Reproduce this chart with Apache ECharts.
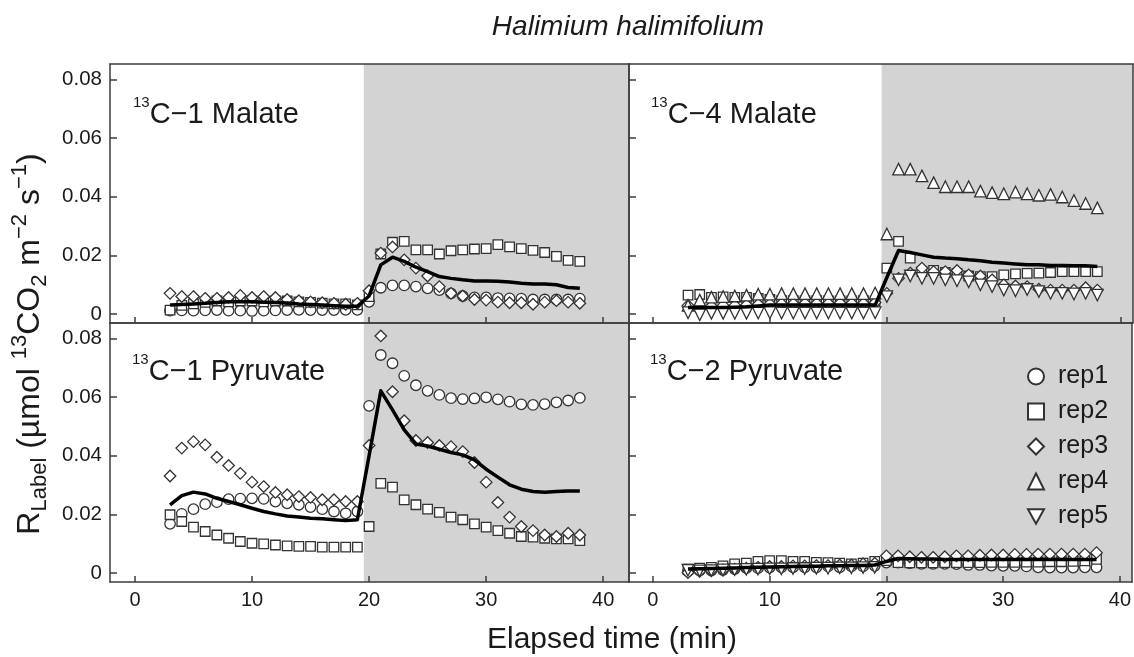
<!DOCTYPE html>
<html>
<head>
<meta charset="utf-8">
<script src="https://cdn.jsdelivr.net/npm/echarts@6/dist/echarts.min.js"></script>
<style>
  html, body { margin: 0; padding: 0; background: #ffffff; }
  #chart { width: 1134px; height: 657px; }
</style>
</head>
<body>
<div id="chart"></div>
<script>
// ---- data ---------------------------------------------------------------
const minutes = [3, 4, 5, 6, 7, 8, 9, 10, 11, 12, 13, 14, 15, 16, 17, 18, 19,
  20, 21, 22, 23, 24, 25, 26, 27, 28, 29, 30, 31, 32, 33, 34, 35, 36, 37, 38];
const xTicks = [0, 10, 20, 30, 40];
const yTicks = [0, 0.02, 0.04, 0.06, 0.08];
const labelOnset = [19.55];           // start of the labelled-substrate period (min)
const panelNames = ['C\u22121 Malate', 'C\u22124 Malate', 'C\u22121 Pyruvate', 'C\u22122 Pyruvate'];
const repNames = ['rep1', 'rep2', 'rep3', 'rep4', 'rep5'];

// 13C-1 malate
const c1MalRep1 = [0.0012, 0.0013, 0.0012, 0.0013, 0.0014, 0.0012, 0.0012, 0.0011, 0.0012, 0.0013, 0.0014, 0.0015, 0.0014, 0.0014, 0.0014, 0.0015, 0.0015,
  0.0042, 0.0090, 0.0098, 0.0098, 0.0094, 0.0088, 0.0082, 0.0071, 0.0062, 0.0057, 0.0057, 0.0055, 0.0054, 0.0053, 0.0050, 0.0050, 0.0050, 0.0050, 0.0053];
const c1MalRep2 = [0.0014, 0.0030, 0.0035, 0.0040, 0.0045, 0.0042, 0.0045, 0.0045, 0.0042, 0.0045, 0.0045, 0.0042, 0.0040, 0.0038, 0.0035, 0.0035, 0.0032,
  0.0060, 0.0205, 0.0245, 0.0248, 0.0219, 0.0219, 0.0205, 0.0216, 0.0219, 0.0222, 0.0223, 0.0237, 0.0229, 0.0223, 0.0217, 0.0210, 0.0197, 0.0183, 0.0180];
const c1MalRep3 = [0.0071, 0.0060, 0.0060, 0.0054, 0.0054, 0.0057, 0.0064, 0.0057, 0.0060, 0.0057, 0.0050, 0.0046, 0.0042, 0.0039, 0.0037, 0.0034, 0.0037,
  0.0080, 0.0208, 0.0229, 0.0185, 0.0157, 0.0130, 0.0094, 0.0071, 0.0062, 0.0050, 0.0048, 0.0041, 0.0039, 0.0039, 0.0034, 0.0041, 0.0046, 0.0041, 0.0037];
const c1MalMean = [0.0031, 0.0033, 0.0035, 0.0037, 0.0040, 0.0042, 0.0042, 0.0042, 0.0041, 0.0040, 0.0038, 0.0035, 0.0033, 0.0031, 0.0029, 0.0027, 0.0027,
  0.0062, 0.0168, 0.0194, 0.0180, 0.0160, 0.0145, 0.0128, 0.0122, 0.0117, 0.0113, 0.0113, 0.0112, 0.0110, 0.0105, 0.0103, 0.0103, 0.0100, 0.0091, 0.0088];

// 13C-4 malate
const c4MalRep2 = [0.0065, 0.0067, 0.0057, 0.0059, 0.0057, 0.0057, 0.0054, 0.0050, 0.0046, 0.0046, 0.0045, 0.0046, 0.0045, 0.0045, 0.0045, 0.0046, 0.0045,
  0.0157, 0.0248, 0.0191, 0.0145, 0.0149, 0.0142, 0.0139, 0.0130, 0.0128, 0.0128, 0.0134, 0.0137, 0.0139, 0.0140, 0.0142, 0.0145, 0.0145, 0.0145, 0.0145];
const c4MalRep3 = [0.0030, 0.0025, 0.0028, 0.0030, 0.0030, 0.0032, 0.0034, 0.0035, 0.0036, 0.0036, 0.0037, 0.0037, 0.0037, 0.0038, 0.0037, 0.0037, 0.0040,
  0.0071, 0.0122, 0.0140, 0.0157, 0.0145, 0.0145, 0.0149, 0.0134, 0.0130, 0.0117, 0.0100, 0.0096, 0.0094, 0.0085, 0.0082, 0.0082, 0.0082, 0.0090, 0.0082];
const c4MalRep4 = [0.0030, 0.0048, 0.0058, 0.0060, 0.0062, 0.0065, 0.0068, 0.0068, 0.0070, 0.0070, 0.0070, 0.0070, 0.0070, 0.0070, 0.0070, 0.0070, 0.0072,
  0.0273, 0.0494, 0.0494, 0.0471, 0.0448, 0.0434, 0.0434, 0.0434, 0.0419, 0.0414, 0.0410, 0.0416, 0.0410, 0.0405, 0.0408, 0.0399, 0.0387, 0.0377, 0.0362];
const c4MalRep5 = [0.0005, -0.0002, 0.0003, 0.0003, 0.0003, 0.0003, 0.0004, 0.0005, 0.0004, 0.0004, 0.0004, 0.0004, 0.0004, 0.0004, 0.0004, 0.0004, 0.0005,
  0.0060, 0.0117, 0.0130, 0.0122, 0.0122, 0.0117, 0.0114, 0.0110, 0.0100, 0.0094, 0.0082, 0.0080, 0.0084, 0.0077, 0.0071, 0.0071, 0.0069, 0.0071, 0.0065];
const c4MalMean = [0.0023, 0.0023, 0.0023, 0.0023, 0.0024, 0.0025, 0.0028, 0.0031, 0.0031, 0.0031, 0.0031, 0.0031, 0.0031, 0.0031, 0.0031, 0.0031, 0.0031,
  0.0125, 0.0217, 0.0210, 0.0202, 0.0194, 0.0191, 0.0189, 0.0185, 0.0182, 0.0177, 0.0174, 0.0171, 0.0168, 0.0168, 0.0166, 0.0166, 0.0165, 0.0165, 0.0162];

// 13C-1 pyruvate
const c1PyrRep1 = [0.0168, 0.0202, 0.0218, 0.0235, 0.0242, 0.0252, 0.0254, 0.0255, 0.0253, 0.0244, 0.0238, 0.0233, 0.0225, 0.0218, 0.0210, 0.0204, 0.0210,
  0.0570, 0.0743, 0.0715, 0.0672, 0.0640, 0.0621, 0.0607, 0.0596, 0.0593, 0.0595, 0.0599, 0.0592, 0.0584, 0.0575, 0.0573, 0.0576, 0.0582, 0.0588, 0.0597];
const c1PyrRep2 = [0.0199, 0.0176, 0.0157, 0.0142, 0.0130, 0.0119, 0.0108, 0.0102, 0.0100, 0.0096, 0.0093, 0.0091, 0.0091, 0.0089, 0.0089, 0.0089, 0.0089,
  0.0159, 0.0306, 0.0293, 0.0250, 0.0233, 0.0218, 0.0207, 0.0191, 0.0182, 0.0168, 0.0157, 0.0145, 0.0136, 0.0125, 0.0123, 0.0119, 0.0117, 0.0117, 0.0111];
const c1PyrRep3 = [0.0331, 0.0426, 0.0448, 0.0437, 0.0395, 0.0367, 0.0340, 0.0310, 0.0295, 0.0275, 0.0267, 0.0261, 0.0258, 0.0250, 0.0250, 0.0244, 0.0244,
  0.0435, 0.0808, 0.0618, 0.0519, 0.0452, 0.0445, 0.0435, 0.0431, 0.0414, 0.0377, 0.0310, 0.0241, 0.0191, 0.0159, 0.0145, 0.0130, 0.0125, 0.0136, 0.0130];
const c1PyrMean = [0.0233, 0.0264, 0.0276, 0.0270, 0.0255, 0.0244, 0.0233, 0.0221, 0.0210, 0.0202, 0.0195, 0.0191, 0.0187, 0.0185, 0.0182, 0.0179, 0.0182,
  0.0400, 0.0621, 0.0556, 0.0488, 0.0440, 0.0433, 0.0422, 0.0411, 0.0403, 0.0386, 0.0354, 0.0327, 0.0301, 0.0286, 0.0278, 0.0276, 0.0278, 0.0280, 0.0280];

// 13C-2 pyruvate
const c2PyrRep1 = [0.0006, 0.0009, 0.0009, 0.0011, 0.0014, 0.0017, 0.0017, 0.0019, 0.0020, 0.0020, 0.0020, 0.0020, 0.0023, 0.0020, 0.0023, 0.0023, 0.0025,
  0.0036, 0.0036, 0.0034, 0.0032, 0.0032, 0.0032, 0.0031, 0.0028, 0.0028, 0.0026, 0.0025, 0.0025, 0.0023, 0.0020, 0.0019, 0.0019, 0.0019, 0.0020, 0.0020];
const c2PyrRep2 = [0.0014, 0.0017, 0.0020, 0.0025, 0.0032, 0.0034, 0.0040, 0.0043, 0.0043, 0.0040, 0.0040, 0.0037, 0.0036, 0.0034, 0.0032, 0.0034, 0.0040,
  0.0043, 0.0036, 0.0035, 0.0035, 0.0035, 0.0036, 0.0036, 0.0036, 0.0036, 0.0037, 0.0037, 0.0037, 0.0038, 0.0038, 0.0039, 0.0039, 0.0040, 0.0042, 0.0047];
const c2PyrRep3 = [0.0002, 0.0006, 0.0009, 0.0011, 0.0014, 0.0017, 0.0020, 0.0023, 0.0023, 0.0025, 0.0025, 0.0026, 0.0026, 0.0028, 0.0028, 0.0032, 0.0034,
  0.0059, 0.0059, 0.0056, 0.0054, 0.0054, 0.0056, 0.0059, 0.0059, 0.0061, 0.0062, 0.0062, 0.0064, 0.0064, 0.0065, 0.0065, 0.0065, 0.0065, 0.0065, 0.0070];
const c2PyrRep5 = [0.0010, 0.0008, 0.0009, 0.0011, 0.0012, 0.0013, 0.0014, 0.0015, 0.0015, 0.0016, 0.0016, 0.0017, 0.0017, 0.0018, 0.0018, 0.0019, 0.0020,
  null, null, null, null, null, null, null, null, null, null, null, null, null, null, null, null, null, null, null];
const c2PyrMean = [0.0014, 0.0015, 0.0016, 0.0017, 0.0018, 0.0019, 0.0020, 0.0021, 0.0022, 0.0023, 0.0024, 0.0024, 0.0025, 0.0025, 0.0026, 0.0026, 0.0028,
  0.0040, 0.0050, 0.0049, 0.0048, 0.0048, 0.0047, 0.0047, 0.0047, 0.0047, 0.0047, 0.0047, 0.0047, 0.0047, 0.0047, 0.0047, 0.0047, 0.0047, 0.0047, 0.0047];

// ---- layout & style -----------------------------------------------------
const FONT = '"Liberation Sans", Arial, Helvetica, sans-serif';
const INK = '#1a1a1a';
const FRAME = '#3c3c3c';
const SHADE = '#d3d3d3';

const panels = [
  { box: { left: 110, top: 64, width: 519, height: 259 }, x: [-2.13, 42.2], xLabels: false, yLabels: true },
  { box: { left: 629, top: 64, width: 504, height: 259 }, x: [-2.05, 41.05], xLabels: false, yLabels: false },
  { box: { left: 110, top: 323, width: 519, height: 259 }, x: [-2.13, 42.2], xLabels: true, yLabels: true },
  { box: { left: 629, top: 323, width: 504, height: 259 }, x: [-2.05, 41.05], xLabels: true, yLabels: false }
];
const yRange = [-0.003, 0.0852];

const reps = [
  { symbol: 'circle', size: 10.5 },
  { symbol: 'rect', size: 9.5 },
  { symbol: 'diamond', size: 11.5 },
  { symbol: 'triangle', size: 11.5 },
  { symbol: 'path://M0,0L10,0L5,9Z', size: 11.5 }
];

// replicate series per panel: [rep index, values]
const panelSeries = [
  { reps: [[0, c1MalRep1], [1, c1MalRep2], [2, c1MalRep3]], mean: c1MalMean },
  { reps: [[1, c4MalRep2], [2, c4MalRep3], [3, c4MalRep4], [4, c4MalRep5]], mean: c4MalMean },
  { reps: [[0, c1PyrRep1], [1, c1PyrRep2], [2, c1PyrRep3]], mean: c1PyrMean },
  { reps: [[0, c2PyrRep1], [1, c2PyrRep2], [2, c2PyrRep3], [4, c2PyrRep5]], mean: c2PyrMean }
];

const grid = [], xAxis = [], yAxis = [], series = [];
const lineStyle = { color: FRAME, width: 1.5 };

panels.forEach((p, g) => {
  grid.push(Object.assign({ show: false }, p.box));
  // bottom x axis with inward ticks
  xAxis.push({
    type: 'value', gridIndex: g, min: p.x[0], max: p.x[1], position: 'bottom', z: 10,
    axisLine: { show: true, onZero: false, lineStyle },
    axisTick: { show: true, inside: true, length: 6, customValues: xTicks, lineStyle },
    axisLabel: { show: p.xLabels, customValues: xTicks, margin: 8, fontSize: 20, color: INK, fontFamily: FONT },
    splitLine: { show: false }
  });
  // top frame edge
  xAxis.push({
    type: 'value', gridIndex: g, min: p.x[0], max: p.x[1], position: 'top', z: 10,
    axisLine: { show: true, onZero: false, lineStyle },
    axisTick: { show: false }, axisLabel: { show: false }, splitLine: { show: false }
  });
  // left y axis with inward ticks
  yAxis.push({
    type: 'value', gridIndex: g, min: yRange[0], max: yRange[1], position: 'left', z: 10,
    axisLine: { show: true, onZero: false, lineStyle },
    axisTick: { show: true, inside: true, length: 7, customValues: yTicks, lineStyle },
    axisLabel: { show: p.yLabels, customValues: yTicks, margin: 8, fontSize: 20.5, color: INK, fontFamily: FONT },
    splitLine: { show: false }
  });
  // right frame edge
  yAxis.push({
    type: 'value', gridIndex: g, min: yRange[0], max: yRange[1], position: 'right', z: 10,
    axisLine: { show: true, onZero: false, lineStyle },
    axisTick: { show: false }, axisLabel: { show: false }, splitLine: { show: false }
  });

  const ps = panelSeries[g];
  ps.reps.forEach(([r, vals]) => {
    series.push({
      type: 'scatter', name: repNames[r], xAxisIndex: 2 * g, yAxisIndex: 2 * g,
      symbol: reps[r].symbol, symbolSize: reps[r].size, z: 3, silent: true,
      itemStyle: { color: '#ffffff', borderColor: '#333333', borderWidth: 1.3, opacity: 1 },
      data: minutes.map((m, i) => [m, vals[i]]).filter(d => d[1] !== null)
    });
  });
  series.push({
    type: 'line', name: 'mean', xAxisIndex: 2 * g, yAxisIndex: 2 * g,
    symbol: 'none', z: 4, silent: true,
    lineStyle: { color: '#000000', width: 3.5, join: 'round' },
    data: minutes.map((m, i) => [m, ps.mean[i]]),
    markArea: {
      silent: true, z: 1,
      itemStyle: { color: SHADE },
      data: [[{ xAxis: labelOnset[0] }, { xAxis: p.x[1] }]]
    }
  });
});

// panel captions with superscript mass number
const captionPos = [[133, 95], [651, 95], [132, 352], [650, 352]];
const graphics = panelNames.map((t, i) => ({
  type: 'text', x: captionPos[i][0], y: captionPos[i][1], z: 20, silent: true,
  style: {
    text: '{sup|13}{main|' + t + '}',
    textAlign: 'left', textVerticalAlign: 'top',
    rich: {
      sup: { fontSize: 15, lineHeight: 8, verticalAlign: 'top', fontFamily: FONT, fill: INK },
      main: { fontSize: 29, lineHeight: 40, verticalAlign: 'middle', fontFamily: FONT, fill: INK }
    }
  }
}));

graphics.push({
  type: 'text', x: 628, y: 27, z: 20, silent: true,
  style: { text: 'Halimium halimifolium', font: 'italic 28px ' + FONT, fill: INK, textAlign: 'center', textVerticalAlign: 'middle' }
});
graphics.push({
  type: 'text', x: 612, y: 640, z: 20, silent: true,
  style: { text: 'Elapsed time (min)', font: '30px ' + FONT, fill: INK, textAlign: 'center', textVerticalAlign: 'middle' }
});
graphics.push({
  type: 'text', x: 30, y: 344, rotation: Math.PI / 2, z: 20, silent: true,
  style: {
    text: '{b|R}{sub|Label}{b| (\u00b5mol }{sup|13}{b|CO}{sub|2}{b| m}{sup|\u22122}{b| s}{sup|\u22121}{b|)}',
    textAlign: 'center', textVerticalAlign: 'middle',
    rich: {
      b: { fontSize: 32, lineHeight: 42, verticalAlign: 'middle', fontFamily: FONT, fill: INK },
      sub: { fontSize: 22, lineHeight: 25, verticalAlign: 'bottom', fontFamily: FONT, fill: INK },
      sup: { fontSize: 22, lineHeight: 14, verticalAlign: 'top', fontFamily: FONT, fill: INK }
    }
  }
});

const chart = echarts.init(document.getElementById('chart'), null, { renderer: 'canvas' });
chart.setOption({
  animation: false,
  backgroundColor: '#ffffff',
  grid, xAxis, yAxis, series,
  legend: {
    data: repNames, orient: 'vertical', left: 1022, top: 359,
    itemWidth: 16, itemHeight: 16, itemGap: 10, selectedMode: false,
    textStyle: { fontSize: 25, color: INK, fontFamily: FONT, padding: [0, 0, 0, 9] }
  },
  graphic: graphics
});
</script>
</body>
</html>
